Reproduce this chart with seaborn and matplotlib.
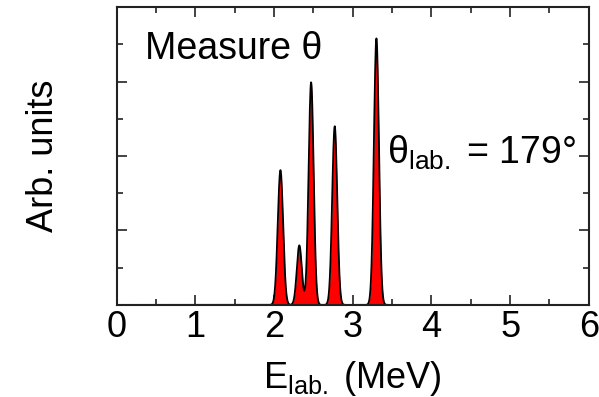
import numpy as np
import pandas as pd
import matplotlib
matplotlib.use('Agg')
import matplotlib.pyplot as plt
from matplotlib.ticker import MultipleLocator, NullFormatter
import seaborn as sns

# peak positions (MeV), heights (arb.) and gaussian width
peak_E = [2.08, 2.32, 2.47, 2.77, 3.30]
peak_h = [1.81, 0.80, 2.99, 2.40, 3.58]
peak_sigma = [0.034, 0.032, 0.032, 0.032, 0.032]

E = np.linspace(0, 6, 3001)
counts = np.zeros_like(E)
for c, h, s in zip(peak_E, peak_h, peak_sigma):
    counts += h * np.exp(-0.5 * ((E - c) / s) ** 2)
df = pd.DataFrame({'E': E, 'counts': counts})

sns.set_style('ticks')
plt.rcParams['font.family'] = ['Liberation Sans', 'DejaVu Sans']
plt.rcParams['mathtext.fontset'] = 'custom'
plt.rcParams['mathtext.rm'] = 'Liberation Sans'
plt.rcParams['mathtext.it'] = 'Liberation Sans'
plt.rcParams['text.color'] = 'black'
plt.rcParams['axes.labelcolor'] = 'black'

fig = plt.figure(figsize=(5.99, 3.97), dpi=100)
ax = fig.add_axes([0.195, 0.232, 0.788, 0.750])

ax.fill_between(df['E'], df['counts'], color='#ff0000', lw=0)
sns.lineplot(data=df, x='E', y='counts', ax=ax, color='black', lw=1.3)

ax.set_xlim(0, 6)
ax.set_ylim(0, 4)
ax.xaxis.set_major_locator(MultipleLocator(1))
ax.xaxis.set_minor_locator(MultipleLocator(0.5))
ax.yaxis.set_major_locator(MultipleLocator(1))
ax.yaxis.set_minor_locator(MultipleLocator(0.5))
ax.yaxis.set_major_formatter(NullFormatter())
ax.tick_params(which='both', direction='in', top=True, right=True, width=1.2, colors='#222222')
ax.tick_params(which='major', length=7, labelsize=26, pad=4, labelcolor='black')
ax.tick_params(which='minor', length=4)
for sp in ax.spines.values():
    sp.set_visible(True)
    sp.set_linewidth(1.5)
    sp.set_color('#222222')

ax.set_xlabel(r'E$_{\mathrm{lab.}}$ (MeV)', fontsize=26, labelpad=10)
ax.set_ylabel('Arb. units', fontsize=26, labelpad=36)

ax.text(0.06, 0.86, 'Measure θ', transform=ax.transAxes, fontsize=27, va='center')
ax.text(0.572, 0.51, r'θ$_{\mathrm{lab.}}$ = 179°', transform=ax.transAxes, fontsize=27, va='center')

fig.savefig('out.png', dpi=100)
